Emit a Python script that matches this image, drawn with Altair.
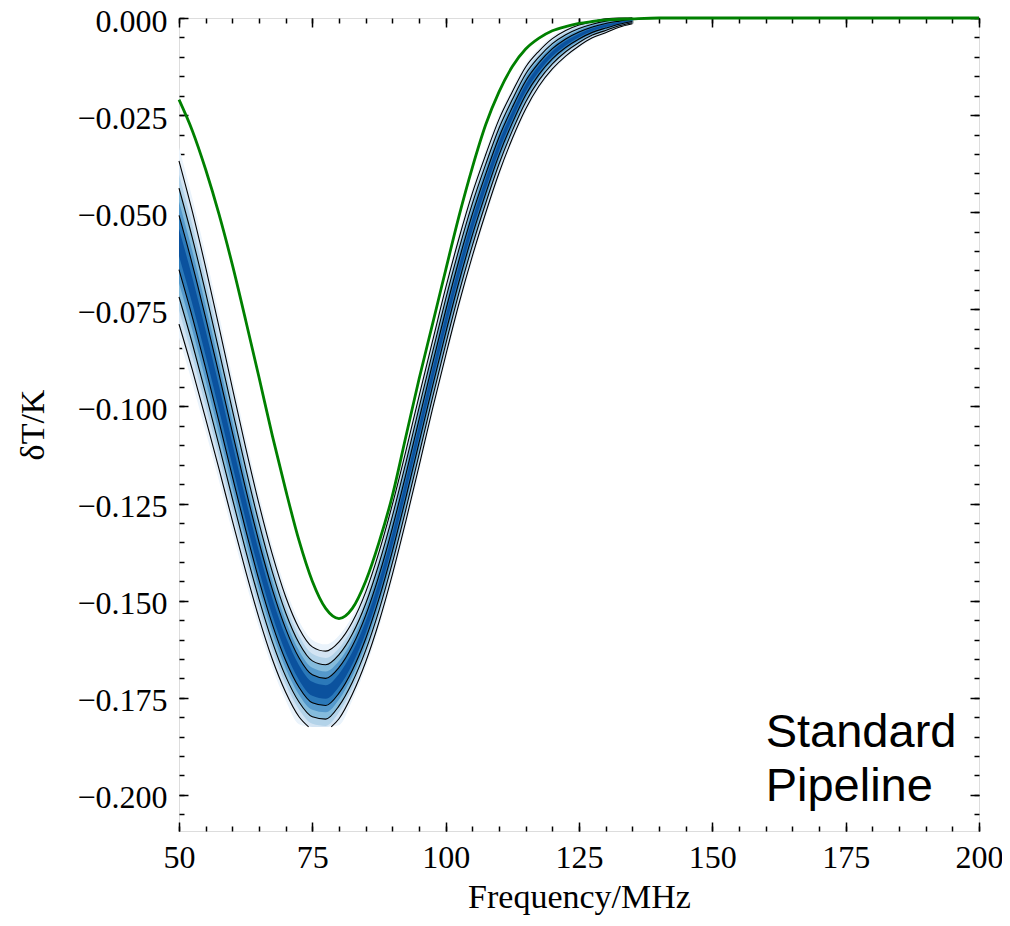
import altair as alt
import pandas as pd

# ---- posterior band (fgivenx-style contours): frequency, central value, 1-sigma half-width
band_freq = [50, 52.5, 55, 57.5, 60, 62.5, 65, 67.5, 70, 72.5, 75, 77.5, 80, 82.5, 85, 87.5,
             90, 92.5, 95, 97.5, 100, 102.5, 105, 107.5, 110, 112.5, 115, 117.5, 120, 122.5,
             125, 127.5, 130, 132.5, 135]
band_mid = [-0.0578, -0.0702, -0.0837, -0.0978, -0.1123, -0.1265, -0.1398, -0.1516, -0.1613, -0.1685,
            -0.1727, -0.1735, -0.1705, -0.1648, -0.1568, -0.1465, -0.1343, -0.1207, -0.1064, -0.0921,
            -0.0782, -0.0651, -0.0532, -0.0427, -0.0330, -0.0250, -0.0180, -0.0130, -0.0092, -0.0065,
            -0.0045, -0.0030, -0.0020, -0.0012, -0.0006]
band_sigma = [0.0070, 0.0068, 0.0065, 0.0061, 0.0057, 0.0053, 0.0049, 0.0045, 0.0041, 0.0038,
              0.0036, 0.0035, 0.0033, 0.0031, 0.0030, 0.0030, 0.0030, 0.0030, 0.0030, 0.0029,
              0.0029, 0.0028, 0.0027, 0.0025, 0.0023, 0.0020, 0.0018, 0.0015, 0.0013, 0.0011,
              0.0009, 0.0007, 0.0006, 0.0004, 0.0003]
grid_low = -0.1825   # lower edge of the contour grid
grid_high = 0.0

# ---- green reference signal
green_freq = [50, 52.5, 55, 57.5, 60, 62.5, 65, 67.5, 70, 72.5, 75, 77.5, 80, 82.5, 85, 87.5,
              90, 92.5, 95, 97.5, 100, 102.5, 105, 107.5, 110, 112.5, 115, 117.5, 120, 122.5,
              125, 127.5, 130, 135, 140, 150, 200]
green_temp = [-0.0210, -0.0290, -0.0390, -0.0505, -0.0635, -0.0778, -0.0925, -0.1075, -0.1215, -0.1345,
              -0.1450, -0.1520, -0.1546, -0.1520, -0.1450, -0.1350, -0.1230, -0.1080, -0.0930, -0.0790,
              -0.0649, -0.0510, -0.0385, -0.0275, -0.0190, -0.0125, -0.0080, -0.0052, -0.0033, -0.0022,
              -0.0014, -0.0009, -0.0005, -0.0002, 0.0, 0.0, 0.0]

# ---- axes
x_domain = [50, 200]
y_domain = [-0.2093, 0.0]
x_major = [50, 75, 100, 125, 150, 175, 200]
x_minor = list(range(50, 201, 5))
y_major = [0.0, -0.025, -0.05, -0.075, -0.1, -0.125, -0.15, -0.175, -0.2]
y_minor = [round(-0.005 * i, 3) for i in range(0, 42)]

fill_levels = [3.5, 3.0, 2.5, 2.0, 1.5, 1.0, 0.5]
fill_colors = ["#eaf3fb", "#d3e4f3", "#b3d3e9", "#85bcdc", "#5599cb", "#2b79b9", "#0b529e"]
line_levels = [1, 2, 3]

label_text = ["Standard", "Pipeline"]
label_x = [160, 160]
label_y = [-0.1876, -0.2016]

SERIF = "Liberation Serif"
LFS = 32   # tick labels
TFS = 34   # axis titles
xscale = alt.Scale(domain=x_domain, nice=False, zero=False)
yscale = alt.Scale(domain=y_domain, nice=False, zero=False)

layers = []

# filled bands
for k, col in zip(fill_levels, fill_colors):
    rows = []
    for f, c, w in zip(band_freq, band_mid, band_sigma):
        rows.append({"freq": f, "lo": max(c - k * w, grid_low), "hi": min(c + k * w, grid_high)})
    df = pd.DataFrame(rows)
    layers.append(
        alt.Chart(df).mark_area(color=col, interpolate="monotone", strokeWidth=0).encode(
            x=alt.X("freq:Q", scale=xscale, axis=None),
            y=alt.Y("lo:Q", scale=yscale, axis=None),
            y2="hi:Q",
        )
    )

# contour lines (broken where they leave the grid)
line_rows = []
seg = 0
for k in line_levels:
    for s in (1, -1):
        seg += 1
        prev = None
        for f, c, w in zip(band_freq, band_mid, band_sigma):
            v = min(c + s * k * w, grid_high)
            inside = v >= grid_low
            if prev is not None:
                pf, pv, pin = prev
                if pin and not inside:
                    t = (pv - grid_low) / (pv - v)
                    line_rows.append({"freq": pf + t * (f - pf), "temp": grid_low, "seg": seg})
                    seg += 1
                elif (not pin) and inside:
                    t = (grid_low - pv) / (v - pv)
                    line_rows.append({"freq": pf + t * (f - pf), "temp": grid_low, "seg": seg})
            if inside:
                line_rows.append({"freq": f, "temp": v, "seg": seg})
            prev = (f, v, inside)
lines_df = pd.DataFrame(line_rows)
layers.append(
    alt.Chart(lines_df).mark_line(color="black", strokeWidth=1.1, interpolate="monotone").encode(
        x=alt.X("freq:Q", scale=xscale, axis=None),
        y=alt.Y("temp:Q", scale=yscale, axis=None),
        detail="seg:N",
        order="freq:Q",
    )
)

green_df = pd.DataFrame({"freq": green_freq, "temp": green_temp})
layers.append(
    alt.Chart(green_df).mark_line(color="#008000", strokeWidth=2.8, interpolate="monotone").encode(
        x=alt.X("freq:Q", scale=xscale, axis=None),
        y=alt.Y("temp:Q", scale=yscale, axis=None),
    )
)

label_df = pd.DataFrame({"text": label_text, "x": label_x, "y": label_y})
layers.append(
    alt.Chart(label_df).mark_text(font="Liberation Sans", fontSize=47, align="left",
                                  baseline="alphabetic", color="black").encode(
        x=alt.X("x:Q", scale=xscale, axis=None),
        y=alt.Y("y:Q", scale=yscale, axis=None),
        text="text:N",
    )
)


def ax(orient, values, size, labels=False, title=None, fmt=None, pad=0, tpad=0, loff=0):
    kw = dict(orient=orient, values=values, tickSize=size, offset=-size, domain=False, grid=False,
              ticks=True, tickColor="black", tickWidth=1.5, labels=labels, labelFlush=False,
              labelOverlap=False, labelBound=False)
    if labels:
        kw.update(labelFont=SERIF, labelFontSize=LFS, labelColor="black", labelPadding=pad,
                  labelOffset=loff)
    if fmt:
        kw["format"] = fmt
    if title:
        kw.update(title=title, titleFont=SERIF, titleFontSize=TFS, titleFontWeight="normal",
                  titleColor="black", titlePadding=tpad)
    else:
        kw["title"] = None
    return alt.Axis(**kw)


def carrier(xa, ya):
    return alt.Chart(green_df).mark_point(opacity=0).encode(
        x=alt.X("freq:Q", scale=xscale, axis=xa),
        y=alt.Y("temp:Q", scale=yscale, axis=ya),
    )


layers.append(carrier(ax("bottom", x_major, 9, labels=True, title="Frequency/MHz", fmt="d", pad=11, tpad=7),
                      ax("left", y_major, 9, labels=True, title="δT/K", fmt=".3f", pad=12, tpad=26, loff=3)))
layers.append(carrier(ax("bottom", x_minor, 5), ax("left", y_minor, 5)))
layers.append(carrier(ax("top", x_major, 9), ax("right", y_major, 9)))
layers.append(carrier(ax("top", x_minor, 5), ax("right", y_minor, 5)))

chart = alt.layer(*layers).resolve_axis(x="independent", y="independent").properties(
    width=800, height=813,
    padding={"left": 171, "top": 10, "right": 23, "bottom": 84},
    autosize=alt.AutoSizeParams(type="none"),
).configure_view(stroke="black", strokeWidth=1.6).configure(background="white")

chart.save("out.html", embed_options={"renderer": "svg", "actions": False})
